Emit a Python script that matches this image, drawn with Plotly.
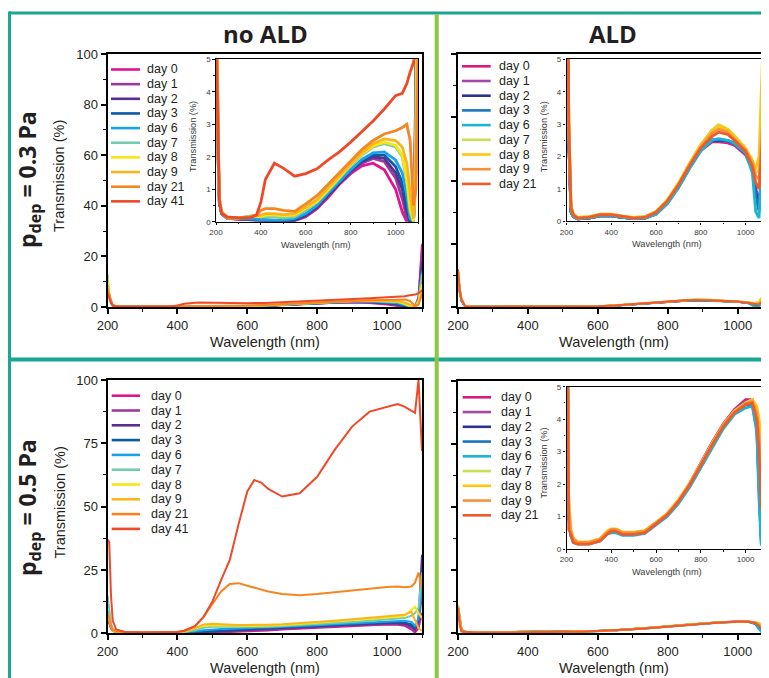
import plotly.graph_objects as go

W, H = 769, 678
OFF = 8  # page body margin of the html page

# ---------------- data ----------------
NAMES_NOALD = ["day 0", "day 1", "day 2", "day 3", "day 6", "day 7", "day 8", "day 9", "day 21", "day 41"]
NAMES_ALD = ["day 0", "day 1", "day 2", "day 3", "day 6", "day 7", "day 8", "day 9", "day 21"]
COLORS_NOALD = ["#e0158e", "#9b3a9e", "#5c2d91", "#0a5aa8", "#1aa3e8", "#72ccb0", "#f5e614", "#fbb41a", "#f6841f", "#ee4a2a"]
COLORS_ALD = ["#d9197f", "#a349a4", "#2e3192", "#1b75bc", "#1cb3d6", "#c9de55", "#fdc70e", "#f7923a", "#f15a29"]

# Panel A: p_dep = 0.3 Pa, no ALD
WL_A = [200, 205, 210, 215, 225, 250, 300, 350, 380, 400, 420, 460, 500, 550, 600, 650, 700, 750, 800, 850, 900, 950, 1000, 1030, 1050, 1065, 1080, 1090, 1100]
A_D0 = [6, 4.2, 1.8, 0.6, 0.25, 0.1, 0.08, 0.06, 0.05, 0.03, 0.02, 0.02, 0.02, 0.03, 0.15, 0.4, 0.75, 1.15, 1.48, 1.72, 1.8, 1.6, 1.0, 0.3, 0, 0, 0.2, 4, 25]
A_D1 = [7, 4.2, 1.8, 0.6, 0.25, 0.1, 0.08, 0.06, 0.05, 0.03, 0.02, 0.02, 0.02, 0.04, 0.18, 0.45, 0.8, 1.18, 1.52, 1.8, 1.95, 1.85, 1.35, 0.7, 0.1, 0, 0.1, 3, 22]
A_D2 = [8, 4.3, 1.9, 0.6, 0.25, 0.1, 0.08, 0.08, 0.06, 0.04, 0.03, 0.03, 0.03, 0.05, 0.2, 0.45, 0.82, 1.2, 1.55, 1.85, 2.0, 1.95, 1.5, 1.0, 0.3, 0, 0, 2, 18]
A_D3 = [9, 4.4, 1.9, 0.6, 0.25, 0.1, 0.1, 0.08, 0.06, 0.05, 0.04, 0.04, 0.04, 0.06, 0.22, 0.48, 0.85, 1.22, 1.58, 1.88, 2.05, 2.05, 1.7, 1.2, 0.5, 0, 0, 1.5, 15]
A_D6 = [10, 4.5, 2.0, 0.6, 0.25, 0.1, 0.1, 0.1, 0.08, 0.06, 0.05, 0.05, 0.05, 0.1, 0.25, 0.5, 0.88, 1.25, 1.6, 1.92, 2.12, 2.15, 1.9, 1.5, 0.8, 0.1, 0, 1.5, 14]
A_D7 = [13, 4.5, 2.2, 0.7, 0.3, 0.12, 0.12, 0.18, 0.2, 0.15, 0.15, 0.15, 0.12, 0.15, 0.35, 0.6, 0.95, 1.35, 1.72, 2.05, 2.3, 2.4, 2.3, 2.0, 1.2, 0.3, 0, 3, 13]
A_D8 = [11, 4.8, 2.0, 0.7, 0.3, 0.12, 0.12, 0.15, 0.18, 0.15, 0.2, 0.2, 0.18, 0.2, 0.4, 0.62, 0.98, 1.38, 1.75, 2.08, 2.33, 2.45, 2.35, 2.05, 1.3, 0.4, 0, 2, 9]
A_D9 = [9, 4.7, 2.0, 0.7, 0.3, 0.12, 0.12, 0.15, 0.18, 0.2, 0.25, 0.25, 0.22, 0.25, 0.45, 0.68, 1.05, 1.42, 1.78, 2.12, 2.4, 2.55, 2.5, 2.3, 1.8, 0.9, 0.1, 1, 7]
A_D21 = [7, 4.7, 2.0, 0.7, 0.3, 0.12, 0.12, 0.15, 0.2, 0.35, 0.4, 0.4, 0.35, 0.32, 0.55, 0.8, 1.15, 1.5, 1.88, 2.22, 2.5, 2.7, 2.8, 2.9, 3.0, 2.5, 0.5, 1, 5]
A_D41 = [5.5, 3.8, 1.5, 0.6, 0.25, 0.15, 0.12, 0.12, 0.2, 0.6, 1.3, 1.8, 1.65, 1.4, 1.48, 1.63, 1.9, 2.15, 2.45, 2.78, 3.1, 3.47, 3.88, 3.95, 4.25, 4.6, 4.9, 5.5, 6.5]

# Panel B: p_dep = 0.3 Pa, ALD
WL_B = [200, 205, 210, 220, 230, 250, 300, 350, 400, 450, 500, 550, 600, 650, 700, 750, 800, 850, 880, 920, 950, 1000, 1030, 1045, 1060, 1075, 1090, 1100]
B_D0 = [12, 6, 2.5, 0.3, 0.15, 0.08, 0.1, 0.17, 0.17, 0.12, 0.08, 0.1, 0.22, 0.55, 1.05, 1.65, 2.18, 2.45, 2.45, 2.42, 2.35, 2.05, 1.6, 1.0, 0.6, 1.5, 4.5, 12]
B_D1 = [12, 6, 2.5, 0.3, 0.15, 0.08, 0.1, 0.17, 0.17, 0.12, 0.08, 0.1, 0.23, 0.56, 1.06, 1.66, 2.2, 2.48, 2.48, 2.45, 2.38, 2.08, 1.62, 1.0, 0.5, 1.5, 4.5, 12]
B_D2 = [13, 6, 2.5, 0.3, 0.15, 0.08, 0.1, 0.17, 0.17, 0.12, 0.08, 0.1, 0.24, 0.57, 1.07, 1.67, 2.21, 2.5, 2.5, 2.48, 2.4, 2.1, 1.65, 0.9, 0.4, 1.8, 5, 13]
B_D3 = [14, 6.5, 2.6, 0.3, 0.15, 0.08, 0.1, 0.17, 0.17, 0.12, 0.08, 0.1, 0.24, 0.57, 1.07, 1.68, 2.22, 2.52, 2.52, 2.5, 2.42, 2.12, 1.7, 0.8, 0.3, 2.0, 6, 14]
B_D6 = [13, 6, 2.5, 0.3, 0.15, 0.08, 0.1, 0.17, 0.17, 0.12, 0.08, 0.1, 0.22, 0.54, 1.03, 1.63, 2.18, 2.5, 2.55, 2.5, 2.4, 2.1, 1.5, 0.3, 0.1, 2.5, 7, 15]
B_D7 = [14, 6.5, 3, 0.45, 0.2, 0.12, 0.14, 0.22, 0.22, 0.16, 0.12, 0.14, 0.3, 0.66, 1.18, 1.8, 2.38, 2.82, 2.98, 2.85, 2.65, 2.25, 1.85, 1.5, 1.6, 4, 8, 12]
B_D8 = [15, 7, 3.5, 0.5, 0.25, 0.12, 0.14, 0.22, 0.22, 0.16, 0.12, 0.14, 0.3, 0.65, 1.17, 1.78, 2.35, 2.8, 2.95, 2.82, 2.62, 2.25, 1.9, 1.6, 2.0, 5, 9, 12]
B_D9 = [14, 6.5, 3, 0.45, 0.2, 0.1, 0.13, 0.21, 0.21, 0.15, 0.1, 0.13, 0.29, 0.63, 1.14, 1.75, 2.3, 2.72, 2.85, 2.75, 2.55, 2.2, 1.8, 1.4, 1.3, 3, 6, 9]
B_D21 = [15, 6, 3, 0.4, 0.2, 0.1, 0.12, 0.2, 0.2, 0.15, 0.1, 0.12, 0.28, 0.62, 1.12, 1.72, 2.27, 2.62, 2.75, 2.68, 2.5, 2.15, 1.7, 1.2, 1.0, 2.5, 5, 8]

# Panel C: p_dep = 0.5 Pa, no ALD
WL_C = [200, 205, 210, 215, 225, 250, 300, 350, 400, 420, 450, 475, 500, 525, 550, 575, 600, 620, 640, 660, 700, 750, 800, 850, 900, 950, 1000, 1030, 1050, 1070, 1080, 1090, 1100]
C_D0 = [5, 4, 2, 1, 0.5, 0.3, 0.2, 0.2, 0.2, 0.2, 0.2, 0.25, 0.3, 0.4, 0.5, 0.6, 0.8, 0.9, 1.0, 1.1, 1.5, 1.85, 2.2, 2.6, 3.0, 3.3, 3.5, 3.4, 3.0, 1.5, 0.3, 2, 8]
C_D1 = [6, 4.5, 2, 1, 0.5, 0.3, 0.2, 0.2, 0.2, 0.25, 0.3, 0.4, 0.5, 0.6, 0.7, 0.85, 1.0, 1.1, 1.2, 1.35, 1.7, 2.0, 2.4, 2.8, 3.2, 3.5, 3.8, 3.7, 3.4, 2.0, 0.8, 4, 15]
C_D2 = [7, 5, 2.2, 1, 0.5, 0.3, 0.2, 0.2, 0.25, 0.3, 0.4, 0.55, 0.7, 0.8, 0.95, 1.1, 1.25, 1.35, 1.45, 1.6, 1.95, 2.3, 2.65, 3.05, 3.45, 3.75, 4.0, 4.0, 3.8, 2.8, 1.5, 6, 31]
C_D3 = [8, 5.5, 2.5, 1.1, 0.5, 0.3, 0.2, 0.2, 0.3, 0.35, 0.6, 0.8, 1.0, 1.1, 1.25, 1.4, 1.55, 1.65, 1.75, 1.85, 2.2, 2.55, 2.9, 3.3, 3.7, 4.0, 4.3, 4.4, 4.3, 3.5, 2, 5, 20]
C_D6 = [9, 6, 2.8, 1.2, 0.5, 0.3, 0.2, 0.2, 0.3, 0.4, 0.8, 1.2, 1.5, 1.7, 1.8, 1.9, 2.0, 2.1, 2.2, 2.3, 2.6, 2.9, 3.25, 3.6, 4.0, 4.35, 4.7, 4.9, 5.0, 4.5, 3, 6, 18]
C_D7 = [15, 9, 4, 1.5, 0.6, 0.3, 0.2, 0.2, 0.35, 0.5, 1.2, 2.2, 2.6, 2.6, 2.5, 2.5, 2.5, 2.5, 2.55, 2.6, 2.85, 3.2, 3.6, 4.0, 4.5, 5.0, 5.5, 5.8, 6.0, 7, 8, 10, 24]
C_D8 = [8, 6, 3, 1.2, 0.5, 0.3, 0.2, 0.2, 0.4, 0.7, 1.8, 3.0, 3.2, 3.1, 3.0, 2.9, 2.9, 2.9, 2.95, 3.0, 3.3, 3.7, 4.2, 4.7, 5.2, 5.7, 6.2, 6.5, 7.0, 9.5, 10.5, 8, 6]
C_D9 = [6, 5, 2.5, 1, 0.5, 0.3, 0.2, 0.2, 0.4, 0.8, 2.0, 3.5, 3.8, 3.6, 3.4, 3.3, 3.3, 3.3, 3.3, 3.4, 3.6, 4.0, 4.5, 5.0, 5.5, 6.0, 6.6, 6.9, 7.3, 8.5, 5, 2, 1]
C_D21 = [8, 6, 3, 1.5, 0.8, 0.5, 0.3, 0.3, 0.5, 1.0, 2.8, 6.5, 11.5, 16.5, 19.5, 19.8, 18.8, 18.0, 17.2, 16.5, 15.5, 15.0, 15.5, 16.2, 17.0, 17.8, 18.3, 18.5, 18.2, 18.5, 20, 24, 18]
C_D41 = [37, 36, 15, 5, 1.5, 0.5, 0.3, 0.3, 0.5, 1.0, 2.8, 6.5, 12.5, 21, 29, 43, 56, 60.5, 59.5, 57, 54, 55.3, 61.8, 72.4, 81.6, 87.5, 89.5, 90.5, 89.5, 88, 87, 100, 72]

# Panel D: p_dep = 0.5 Pa, ALD
WL_D = [200, 205, 210, 220, 230, 250, 300, 350, 380, 400, 420, 450, 500, 550, 600, 650, 700, 750, 800, 850, 900, 950, 1000, 1030, 1050, 1060, 1070, 1080, 1090, 1100]
D_D0 = [9, 4, 1.0, 0.4, 0.25, 0.2, 0.2, 0.3, 0.5, 0.6, 0.6, 0.5, 0.5, 0.55, 0.8, 1.08, 1.5, 2.02, 2.65, 3.28, 3.85, 4.3, 4.6, 4.6, 4.1, 2.5, 0.5, 3, 7, 12]
D_D1 = [9, 4, 1.0, 0.4, 0.25, 0.2, 0.2, 0.3, 0.5, 0.6, 0.6, 0.5, 0.5, 0.55, 0.8, 1.07, 1.49, 2.0, 2.62, 3.25, 3.82, 4.28, 4.55, 4.55, 4.0, 2.3, 0.4, 3, 7, 12]
D_D2 = [10, 4.5, 1.1, 0.45, 0.25, 0.2, 0.2, 0.3, 0.5, 0.6, 0.6, 0.5, 0.5, 0.55, 0.79, 1.06, 1.48, 1.98, 2.6, 3.22, 3.8, 4.25, 4.5, 4.5, 3.8, 2.0, 0.3, 3, 8, 13]
D_D3 = [11, 5, 1.2, 0.45, 0.25, 0.2, 0.2, 0.3, 0.5, 0.6, 0.6, 0.5, 0.5, 0.55, 0.78, 1.05, 1.46, 1.96, 2.57, 3.18, 3.75, 4.2, 4.45, 4.45, 3.7, 1.8, 0.2, 3, 8, 14]
D_D6 = [10, 4.5, 1.0, 0.4, 0.2, 0.15, 0.15, 0.25, 0.45, 0.5, 0.5, 0.42, 0.42, 0.48, 0.73, 1.0, 1.4, 1.9, 2.5, 3.12, 3.7, 4.15, 4.35, 4.4, 3.6, 1.5, 0.1, 2, 7, 12]
D_D7 = [10, 5, 1.3, 0.5, 0.3, 0.2, 0.2, 0.3, 0.5, 0.6, 0.6, 0.5, 0.5, 0.55, 0.8, 1.08, 1.5, 2.0, 2.62, 3.25, 3.82, 4.25, 4.5, 4.6, 4.3, 3.5, 2.0, 4, 9, 16]
D_D8 = [11, 5.5, 1.5, 0.6, 0.35, 0.22, 0.22, 0.32, 0.55, 0.62, 0.62, 0.52, 0.52, 0.57, 0.82, 1.1, 1.52, 2.02, 2.63, 3.25, 3.82, 4.25, 4.5, 4.6, 4.4, 4.0, 3.0, 5, 10, 14]
D_D9 = [10, 4.5, 1.2, 0.5, 0.3, 0.2, 0.2, 0.3, 0.5, 0.6, 0.6, 0.5, 0.5, 0.55, 0.8, 1.07, 1.48, 1.99, 2.6, 3.22, 3.8, 4.22, 4.48, 4.55, 4.2, 3.5, 2.0, 4, 8, 11]
D_D21 = [10, 3, 0.6, 0.45, 0.2, 0.15, 0.15, 0.25, 0.45, 0.55, 0.55, 0.45, 0.45, 0.5, 0.77, 1.05, 1.46, 1.97, 2.58, 3.2, 3.77, 4.2, 4.45, 4.5, 4.0, 3.0, 1.2, 3, 6, 8]

SERIES_A = [A_D0, A_D1, A_D2, A_D3, A_D6, A_D7, A_D8, A_D9, A_D21, A_D41]
SERIES_B = [B_D0, B_D1, B_D2, B_D3, B_D6, B_D7, B_D8, B_D9, B_D21]
SERIES_C = [C_D0, C_D1, C_D2, C_D3, C_D6, C_D7, C_D8, C_D9, C_D21, C_D41]
SERIES_D = [D_D0, D_D1, D_D2, D_D3, D_D6, D_D7, D_D8, D_D9, D_D21]

# ---------------- helpers ----------------
# positions below are window pixels; the page draws the figure 8 px in from its corner
def X(px):
    return (px - OFF) / W

def Y(py):
    return 1 - (py - OFF) / H

TXT = "#231f20"
GRAY = "#3a3a3a"
TEAL = "#1ba595"
GREEN = "#8dc63f"
ARIAL = "Liberation Sans, Arial, sans-serif"
BOLD = "Open Sans, DejaVu Sans, sans-serif"

fig = go.Figure()

def add_lines(wl, series, colors, names, xa, ya, width):
    for vals, c, n in zip(series, colors, names):
        fig.add_trace(go.Scatter(x=wl, y=vals, mode="lines", name=n,
                                 line=dict(color=c, width=width),
                                 xaxis=xa, yaxis=ya, showlegend=False,
                                 hoverinfo="skip"))

# main panels
add_lines(WL_A, SERIES_A, COLORS_NOALD, NAMES_NOALD, "x", "y", 2)
add_lines(WL_B, SERIES_B, COLORS_ALD, NAMES_ALD, "x2", "y2", 2)
add_lines(WL_C, SERIES_C, COLORS_NOALD, NAMES_NOALD, "x3", "y3", 2)
add_lines(WL_D, SERIES_D, COLORS_ALD, NAMES_ALD, "x4", "y4", 2)
# insets
add_lines(WL_A, SERIES_A, COLORS_NOALD, NAMES_NOALD, "x5", "y5", 2.8)
add_lines(WL_B, SERIES_B, COLORS_ALD, NAMES_ALD, "x6", "y6", 2.8)
add_lines(WL_D, SERIES_D, COLORS_ALD, NAMES_ALD, "x7", "y7", 2.8)

PX_PER_NM = 0.3496
RIGHT = W + OFF  # right edge of the figure in window pixels

def main_x(left, right, anchor, rng_hi):
    return dict(domain=[X(left), X(right)], range=[200, rng_hi], anchor=anchor, automargin=False,
                showgrid=False, zeroline=False, showline=True, linecolor="black", linewidth=2,
                mirror=True, ticks="outside", ticklen=5, tickwidth=1.5, tickcolor="black",
                tick0=200, dtick=200, tickfont=dict(family=ARIAL, size=13, color=TXT),
                minor=dict(ticks="outside", ticklen=3, dtick=100, tickcolor="black", tickwidth=1.2))

def main_y(top, bottom, anchor, dtick, minor, labels, mirror):
    return dict(domain=[Y(bottom), Y(top)], range=[0, 100], anchor=anchor, automargin=False,
                showgrid=False, zeroline=False, showline=True, linecolor="black", linewidth=2,
                mirror=mirror, ticks="outside", ticklen=5, tickwidth=1.5, tickcolor="black",
                dtick=dtick, showticklabels=labels,
                tickfont=dict(family=ARIAL, size=13, color=TXT),
                minor=dict(ticks="outside", ticklen=3, dtick=minor, tickcolor="black", tickwidth=1.2))

def inset_x(left, right, anchor):
    return dict(domain=[X(left), X(right)], range=[200, 1100], anchor=anchor, automargin=False,
                showgrid=False, zeroline=False, showline=True, linecolor="black", linewidth=1.4,
                mirror=True, ticks="outside", ticklen=2.5, tickwidth=1, tickcolor="black",
                tick0=200, dtick=200, tickfont=dict(family=ARIAL, size=8, color=GRAY),
                minor=dict(ticks="outside", ticklen=1.5, dtick=100, tickcolor="black"))

def inset_y(top, bottom, anchor):
    return dict(domain=[Y(bottom), Y(top)], range=[0, 5], anchor=anchor, automargin=False,
                showgrid=False, zeroline=False, showline=True, linecolor="black", linewidth=1.4,
                mirror=True, ticks="outside", ticklen=2.5, tickwidth=1, tickcolor="black",
                dtick=1, tickfont=dict(family=ARIAL, size=8, color=GRAY),
                minor=dict(ticks="outside", ticklen=1.5, dtick=0.5, tickcolor="black"))

B_HI = 200 + (RIGHT - 458) / PX_PER_NM

fig.update_layout(
    template="none",
    width=W, height=H, margin=dict(l=0, r=0, t=0, b=0, pad=0, autoexpand=False),
    paper_bgcolor="white", plot_bgcolor="rgba(0,0,0,0)", showlegend=False,
    xaxis=main_x(107.5, 422, "y", 1100),
    yaxis=main_y(54, 307, "x", 20, 10, True, True),
    xaxis2=main_x(458, RIGHT, "y2", B_HI),
    yaxis2=main_y(54, 307, "x2", 25, 12.5, False, False),
    xaxis3=main_x(107.5, 422, "y3", 1100),
    yaxis3=main_y(380, 633.3, "x3", 25, 12.5, True, True),
    xaxis4=main_x(458, RIGHT, "y4", B_HI),
    yaxis4=main_y(380.7, 633, "x4", 25, 12.5, False, False),
    xaxis5=inset_x(216, 418, "y5"),
    yaxis5=inset_y(59.3, 221.7, "x5"),
    xaxis6=inset_x(566.5, 768, "y6"),
    yaxis6=inset_y(59.3, 221.3, "x6"),
    xaxis7=inset_x(566.5, 768, "y7"),
    yaxis7=inset_y(386.7, 549, "x7"),
)

# ---------------- frame lines ----------------
shapes = []
def pline(x0, y0, x1, y1, color, width):
    shapes.append(dict(type="line", xref="paper", yref="paper",
                       x0=X(x0), y0=Y(y0), x1=X(x1), y1=Y(y1),
                       line=dict(color=color, width=width), layer="above"))

pline(9, 13, RIGHT + 5, 13, TEAL, 3)
pline(9.5, 11.5, 9.5, H + OFF + 5, TEAL, 3)
pline(9, 359.5, RIGHT + 5, 359.5, TEAL, 4)
pline(436.7, 14, 436.7, H + OFF + 5, GREEN, 4)

# ---------------- manual legends ----------------
annotations = []
def legend(names, colors, x_line0, x_line1, x_text, y0, step):
    for i, (n, c) in enumerate(zip(names, colors)):
        yy = y0 + i * step
        pline(x_line0, yy, x_line1, yy, c, 2.6)
        annotations.append(dict(text=n, x=X(x_text), y=Y(yy), xref="paper", yref="paper",
                                xanchor="left", yanchor="middle", showarrow=False,
                                font=dict(family=ARIAL, size=12.5, color=TXT)))

legend(NAMES_NOALD, COLORS_NOALD, 111, 140, 145, 69.5, 14.65)
legend(NAMES_ALD, COLORS_ALD, 462, 490.7, 497, 66.3, 14.7)
legend(NAMES_NOALD, COLORS_NOALD, 111.7, 140, 148.5, 395.7, 14.8)
legend(NAMES_ALD, COLORS_ALD, 462.7, 491, 498.5, 397.3, 14.75)

def text(t, px, py, size, family=ARIAL, color=TXT, angle=0):
    annotations.append(dict(text=t, x=X(px), y=Y(py), xref="paper", yref="paper",
                            xanchor="center", yanchor="middle", showarrow=False,
                            textangle=angle, font=dict(family=family, size=size, color=color)))

# column / row titles
text("<b>no ALD</b>", 265, 33, 24, BOLD)
text("<b>ALD</b>", 613, 33, 24, BOLD)
text("<b>p<sub>dep</sub> = 0.3 Pa</b>", 28, 180, 23, BOLD, angle=-90)
text("<b>p<sub>dep</sub> = 0.5 Pa</b>", 28, 508, 23, BOLD, angle=-90)

# main axis titles
text("Wavelength (nm)", 264.5, 341.5, 14.5)
text("Wavelength (nm)", 613.7, 341.5, 14.5)
text("Wavelength (nm)", 264.5, 668, 14.5)
text("Wavelength (nm)", 613.8, 668, 14.5)
text("Transmission (%)", 59, 176, 14.5, angle=-90)
text("Transmission (%)", 59, 502.5, 14.5, angle=-90)

# inset axis titles
text("Wavelength (nm)", 316, 245, 9.2, color=GRAY)
text("Wavelength (nm)", 667, 244, 9.2, color=GRAY)
text("Wavelength (nm)", 667, 571.7, 9.2, color=GRAY)
text("Transmission (%)", 193, 137, 9.2, color=GRAY, angle=-90)
text("Transmission (%)", 544.3, 137, 9.2, color=GRAY, angle=-90)
text("Transmission (%)", 544.3, 463.3, 9.2, color=GRAY, angle=-90)

fig.update_layout(shapes=shapes, annotations=annotations)

fig.write_html("out.html")
